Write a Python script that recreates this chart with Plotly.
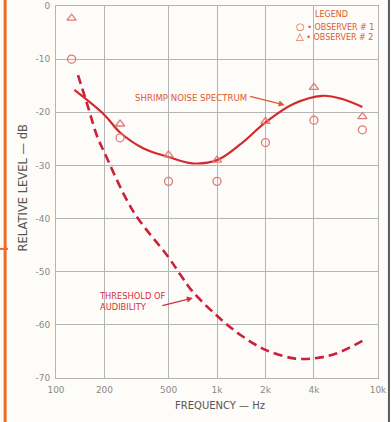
import plotly.graph_objects as go

# ---- data ----
obs_freq = [125, 250, 500, 1000, 2000, 4000, 8000]
observer1 = [-10, -24.8, -33, -33, -25.7, -21.5, -23.3]
observer2 = [-2.3, -22.2, -28, -29, -21.7, -15.3, -20.8]

shrimp_freq = [130, 200, 250, 350, 500, 700, 1000, 1400, 2000, 3000, 4500, 6000, 8000]
shrimp_level = [-15.8, -20.5, -23.8, -26.8, -28.4, -29.6, -29.0, -26.0, -21.9, -18.4, -16.9, -17.5, -19.0]

thresh_freq = [137, 160, 180, 200, 300, 500, 600, 700, 1000, 1400, 2000, 3000, 4000, 5500, 8000]
thresh_level = [-13, -19.5, -24.5, -27.6, -38.5, -47.3, -50.8, -53.6, -58.3, -61.9, -64.7, -66.3, -66.3, -65.4, -63.0]

x_tickvals = [100, 200, 500, 1000, 2000, 4000, 10000]
x_ticktext = ["100", "200", "500", "1k", "2k", "4k", "10k"]
y_tickvals = [0, -10, -20, -30, -40, -50, -60, -70]
y_ticktext = ["0", "-10", "-20", "-30", "-40", "-50", "-60", "-70"]

RED = "#d42a2e"
MARK = "#e27a7a"
LABEL = "#dc5a30"
FONT = "DejaVu Sans"

fig = go.Figure()
fig.add_trace(go.Scatter(x=thresh_freq, y=thresh_level, mode="lines",
                         line=dict(color="#cc2038", width=2.6, dash="9px,5px", shape="spline", smoothing=1.0),
                         showlegend=False, hoverinfo="skip"))
fig.add_trace(go.Scatter(x=shrimp_freq, y=shrimp_level, mode="lines",
                         line=dict(color=RED, width=2.2, shape="spline", smoothing=1.0),
                         showlegend=False, hoverinfo="skip"))
fig.add_trace(go.Scatter(x=obs_freq, y=observer1, mode="markers",
                         marker=dict(symbol="circle-open", size=8, color=MARK, line=dict(width=1.3)),
                         showlegend=False))
fig.add_trace(go.Scatter(x=obs_freq, y=observer2, mode="markers",
                         marker=dict(symbol="triangle-up-open", size=8, color=MARK, line=dict(width=1.3)),
                         showlegend=False))

ann = []
ann.append(dict(x=0.857, y=0.977, xref="paper", yref="paper", text="LEGEND", showarrow=False,
                font=dict(family=FONT, size=8, color=LABEL), xanchor="center", yanchor="middle"))
ann.append(dict(x=0.738, y=0.932, xref="paper", yref="paper",
                text="<span style='font-size:10px'>○</span> • OBSERVER # 1<br>"
                     "<span style='font-size:10px'>△</span> • OBSERVER # 2",
                showarrow=False, align="left",
                font=dict(family=FONT, size=8, color=LABEL), xanchor="left", yanchor="middle"))
# shrimp label with arrow
ann.append(dict(x=0.71, y=0.734, xref="paper", yref="paper", ax=-36, ay=-9,
                text="", showarrow=True, arrowhead=2, arrowsize=1, arrowwidth=1.2, arrowcolor=LABEL))
ann.append(dict(x=0.6, y=0.752, xref="paper", yref="paper", text="SHRIMP NOISE SPECTRUM", showarrow=False,
                font=dict(family=FONT, size=8.6, color=LABEL), xanchor="right", yanchor="middle"))
# threshold label with arrow
ann.append(dict(x=0.425, y=0.215, xref="paper", yref="paper", ax=-32, ay=8,
                text="", showarrow=True, arrowhead=2, arrowsize=1, arrowwidth=1.2, arrowcolor="#d03040"))
ann.append(dict(x=0.128, y=0.205, xref="paper", yref="paper", text="THRESHOLD OF<br>AUDIBILITY", showarrow=False,
                align="left", font=dict(family=FONT, size=8.3, color="#d03040"), xanchor="left", yanchor="middle"))
# axis titles as annotations for exact placement
ann.append(dict(x=-0.102, y=0.51, xref="paper", yref="paper", text="RELATIVE LEVEL — dB", showarrow=False,
                textangle=-90, font=dict(family=FONT, size=11.5, color="#555"), xanchor="center", yanchor="middle"))
ann.append(dict(x=0.51, y=-0.075, xref="paper", yref="paper", text="FREQUENCY — Hz", showarrow=False,
                font=dict(family=FONT, size=10, color="#555"), xanchor="center", yanchor="middle"))

fig.update_layout(
    width=391, height=422,
    margin=dict(l=56, r=13, t=6, b=44, autoexpand=False),
    paper_bgcolor="#fdfcf8", plot_bgcolor="#fdfcf8",
    annotations=ann,
    shapes=[
        dict(type="line", xref="paper", yref="paper", x0=-0.158, x1=-0.158, y0=-0.12, y1=1.02,
             line=dict(color="#ef6a2a", width=3)),
        dict(type="line", xref="paper", yref="paper", x0=-0.175, x1=-0.149, y0=0.347, y1=0.347,
             line=dict(color="#ef6a2a", width=2)),
        dict(type="line", xref="paper", yref="paper", x0=1.034, x1=1.034, y0=-0.12, y1=1.02,
             line=dict(color="#555a66", width=2)),
    ],
    xaxis=dict(type="log", range=[2, 4], tickvals=x_tickvals, ticktext=x_ticktext, automargin=False,
               showgrid=True, gridcolor="#b4b4b4", gridwidth=1, showline=True, mirror=True,
               linecolor="#b4b4b4", linewidth=1, ticks="", zeroline=False, ticklabelstandoff=3,
               tickfont=dict(family=FONT, size=9, color="#8a8a8a")),
    yaxis=dict(range=[-70, 0], tickvals=y_tickvals, ticktext=y_ticktext, automargin=False,
               showgrid=True, gridcolor="#b4b4b4", gridwidth=1, showline=True, mirror=True,
               linecolor="#b4b4b4", linewidth=1, ticks="", zeroline=False, ticklabelstandoff=3,
               tickfont=dict(family=FONT, size=9, color="#8a8a8a")),
)

fig.write_html("out.html", config={"displayModeBar": False},
               post_script="document.body.style.margin='0px';document.body.style.overflow='hidden';")
